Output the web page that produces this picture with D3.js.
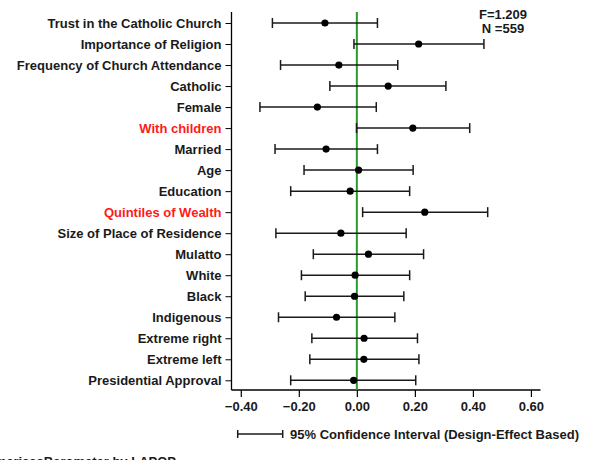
<!DOCTYPE html>
<html>
<head>
<meta charset="utf-8">
<script src="https://cdn.jsdelivr.net/npm/d3@7"></script>
<style>
  html, body { margin: 0; padding: 0; background: #fff; }
  svg { display: block; }
  text { font-family: "Liberation Sans", Arial, sans-serif; font-weight: bold; }
</style>
</head>
<body>
<svg id="chart" width="589" height="460"></svg>
<script>
// Regression coefficients with 95% confidence intervals
const variables = [
  "Trust in the Catholic Church", "Importance of Religion", "Frequency of Church Attendance",
  "Catholic", "Female", "With children", "Married", "Age", "Education",
  "Quintiles of Wealth", "Size of Place of Residence", "Mulatto", "White", "Black",
  "Indigenous", "Extreme right", "Extreme left", "Presidential Approval"
];
const coefficients = [-0.110, 0.213, -0.062, 0.108, -0.136, 0.193, -0.106, 0.006, -0.023,
  0.234, -0.055, 0.040, -0.006, -0.008, -0.070, 0.025, 0.024, -0.011];
const lowerBounds = [-0.291, -0.010, -0.263, -0.093, -0.334, -0.001, -0.282, -0.182, -0.228,
  0.020, -0.279, -0.150, -0.191, -0.178, -0.270, -0.155, -0.162, -0.228];
const upperBounds = [0.071, 0.438, 0.141, 0.307, 0.067, 0.389, 0.071, 0.194, 0.182,
  0.451, 0.170, 0.230, 0.182, 0.162, 0.131, 0.209, 0.214, 0.203];
const highlighted = ["With children", "Quintiles of Wealth"];
const xTicks = [-0.4, -0.2, 0, 0.2, 0.4, 0.6];
const statLines = ["F=1.209", "N =559"];
const legendLabel = "95% Confidence Interval (Design-Effect Based)";
const sourceLabel = "AmericasBarometer by LAPOP";

const svg = d3.select("#chart");
const fs = 13;

const x = d3.scaleLinear().domain([-0.432, 0.633]).range([231.5, 540.5]);
const y = d3.scalePoint().domain(variables).range([23, 380.3]);

const plotTop = 12, plotBottom = 390;

// y axis with category labels
const yAxis = svg.append("g")
  .attr("transform", "translate(231.5,0)")
  .call(d3.axisLeft(y).tickSize(6).tickPadding(4));
yAxis.select(".domain").attr("d", `M0,${plotTop}V${plotBottom}`).attr("stroke", "#000").attr("stroke-width", 1.3);
yAxis.selectAll(".tick line").attr("stroke", "#000").attr("stroke-width", 1);
yAxis.selectAll(".tick text")
  .attr("font-size", fs)
  .attr("fill", d => highlighted.includes(d) ? "#ff1a1a" : "#1a1a1a");

// x axis
const xAxis = svg.append("g")
  .attr("transform", `translate(0,${plotBottom})`)
  .call(d3.axisBottom(x).tickValues(xTicks).tickSize(7).tickPadding(5).tickFormat(d3.format(".2f")));
xAxis.select(".domain").attr("d", `M231.5,0H540.5`).attr("stroke", "#000").attr("stroke-width", 1.3);
xAxis.selectAll(".tick line").attr("stroke", "#000").attr("stroke-width", 1.2);
xAxis.selectAll(".tick text").attr("font-size", fs).attr("fill", "#1a1a1a");

// reference line at zero
svg.append("line")
  .attr("x1", x(0)).attr("x2", x(0))
  .attr("y1", plotTop).attr("y2", plotBottom)
  .attr("stroke", "#2a9a2a").attr("stroke-width", 2);

// confidence intervals
const rows = variables.map((v, i) => ({ v, c: coefficients[i], lo: lowerBounds[i], hi: upperBounds[i] }));
const g = svg.append("g");
const capH = 5;
g.selectAll("line.ci").data(rows).join("line")
  .attr("x1", d => x(d.lo)).attr("x2", d => x(d.hi))
  .attr("y1", d => y(d.v)).attr("y2", d => y(d.v))
  .attr("stroke", "#1a1a1a").attr("stroke-width", 1.5);
g.selectAll("line.lo").data(rows).join("line")
  .attr("x1", d => x(d.lo)).attr("x2", d => x(d.lo))
  .attr("y1", d => y(d.v) - capH).attr("y2", d => y(d.v) + capH)
  .attr("stroke", "#1a1a1a").attr("stroke-width", 1.5);
g.selectAll("line.hi").data(rows).join("line")
  .attr("x1", d => x(d.hi)).attr("x2", d => x(d.hi))
  .attr("y1", d => y(d.v) - capH).attr("y2", d => y(d.v) + capH)
  .attr("stroke", "#1a1a1a").attr("stroke-width", 1.5);
g.selectAll("circle").data(rows).join("circle")
  .attr("cx", d => x(d.c)).attr("cy", d => y(d.v)).attr("r", 3.6)
  .attr("fill", "#000");

// model statistics
svg.append("text").attr("x", 503).attr("y", 19).attr("text-anchor", "middle")
  .attr("font-size", fs).attr("fill", "#1a1a1a").text(statLines[0]);
svg.append("text").attr("x", 503).attr("y", 32.5).attr("text-anchor", "middle")
  .attr("font-size", fs).attr("fill", "#1a1a1a").text(statLines[1]);

// legend
const ly = 434;
svg.append("line").attr("x1", 237.7).attr("x2", 282.7).attr("y1", ly).attr("y2", ly)
  .attr("stroke", "#1a1a1a").attr("stroke-width", 1.5);
[237.7, 282.7].forEach(px => svg.append("line")
  .attr("x1", px).attr("x2", px).attr("y1", ly - 4).attr("y2", ly + 4)
  .attr("stroke", "#1a1a1a").attr("stroke-width", 1.5));
svg.append("text").attr("x", 290).attr("y", 439).attr("font-size", fs)
  .attr("fill", "#1a1a1a").text(legendLabel);

// source note, running past the lower-left edge
svg.append("text").attr("x", 176).attr("y", 465.5).attr("text-anchor", "end").attr("font-size", fs)
  .attr("fill", "#1a1a1a").text(sourceLabel);
</script>
</body>
</html>
